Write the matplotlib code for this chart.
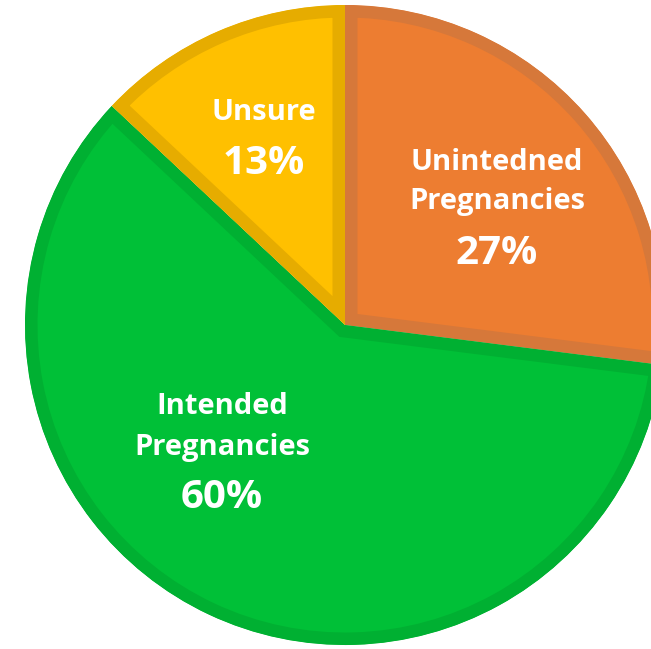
import matplotlib.pyplot as plt

labels = ["Unintedned\nPregnancies", "Intended\nPregnancies", "Unsure"]
shares = [27, 60, 13]
fills = ["#ED7D31", "#00C037", "#FFC000"]
edges = ["#D6783A", "#00B032", "#E6AC00"]

W, H = 651, 649
fig = plt.figure(figsize=(W / 100, H / 100), dpi=100)
ax = fig.add_axes([0, 0, 1, 1])

cx, cy, r = 345, 325, 320
wedges, _ = ax.pie(shares, colors=fills, startangle=90, counterclock=False,
                   center=(cx, H - cy), radius=r, frame=True)
for w, ec in zip(wedges, edges):
    w.set_edgecolor(ec)
    w.set_linewidth(18)
    w.set_clip_on(True)
    w.set_clip_path(w)

ax.set_xlim(0, W)
ax.set_ylim(0, H)
ax.set_aspect("auto")
ax.axis("off")

# label positions (pixel from top-left)
pos = [(497, 182, 253), (222, 427, 498), (264, 112, 164)]
for (x, ly, py), lab, s in zip(pos, labels, shares):
    ax.text(x, H - ly, lab, ha="center", va="center", color="white",
            fontsize=21, fontweight="bold", family="Open Sans", linespacing=1.5)
    ax.text(x, H - py, f"{s}%", ha="center", va="center", color="white",
            fontsize=29, fontweight="bold", family="Open Sans")

fig.savefig("out.png", dpi=100)
